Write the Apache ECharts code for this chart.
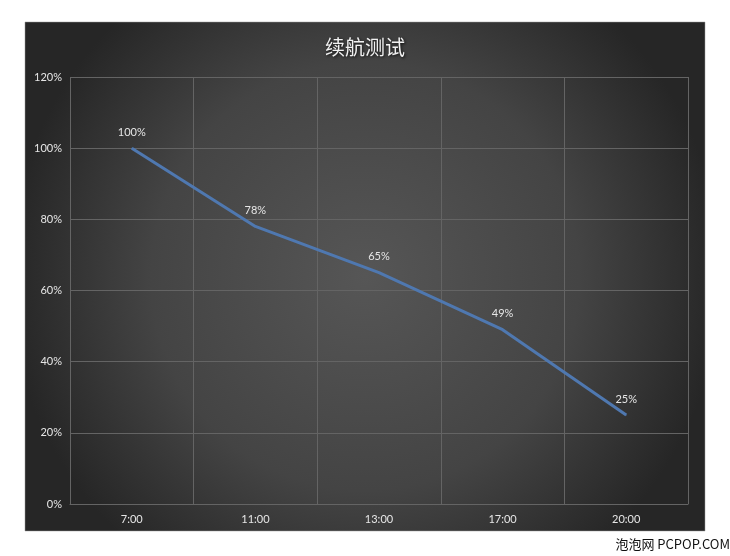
<!DOCTYPE html>
<html>
<head>
<meta charset="utf-8">
<script src="https://cdn.jsdelivr.net/npm/echarts@6/dist/echarts.min.js"></script>
<style>html,body{margin:0;padding:0;background:#fff}#c{width:730px;height:556px}</style>
</head>
<body>
<div id="c"></div>
<script>
const categories = ['7:00', '11:00', '13:00', '17:00', '20:00'];
const batteryValues = [100, 78, 65, 49, 25];
const yTicks = [0, 20, 40, 60, 80, 100, 120];

const chart = echarts.init(document.getElementById('c'));
chart.setOption({
  backgroundColor: '#ffffff',
  animation: false,
  graphic: [
    {
      type: 'rect', z: -10, silent: true,
      shape: { x: 25, y: 22, width: 680, height: 509 },
      style: {
        fill: new echarts.graphic.RadialGradient(0.5, 0.5, 0.7, [
          { offset: 0, color: '#565656' },
          { offset: 0.6, color: '#444444' },
          { offset: 1, color: '#262626' }
        ]),
        stroke: '#9a9a9a', lineWidth: 0.5
      }
    },
    {
      type: 'text', z: 10, silent: true,
      left: 'right', right: 6, top: 538,
      style: { text: '泡泡网 PCPOP.COM', fill: '#111', font: '13px "Noto Sans CJK SC", sans-serif' }
    }
  ],
  title: {
    text: '续航测试',
    left: 'center',
    top: 32,
    textStyle: {
      color: '#f2f2f2', fontSize: 20, fontWeight: 'normal',
      fontFamily: '"Noto Sans CJK SC", sans-serif',
      textShadowColor: 'rgba(0,0,0,0.8)', textShadowBlur: 3, textShadowOffsetX: 1, textShadowOffsetY: 1
    }
  },
  grid: { left: 70, right: 42, top: 77, bottom: 52, containLabel: false },
  xAxis: {
    type: 'category',
    data: categories,
    boundaryGap: true,
    axisLine: { show: true, lineStyle: { color: '#646464', width: 1 } },
    axisTick: { show: false },
    axisLabel: { color: '#e6e6e6', fontSize: 11, margin: 10, fontFamily: 'Lato, "Open Sans", sans-serif' },
    splitLine: { show: true, lineStyle: { color: '#646464', width: 1 } }
  },
  yAxis: {
    type: 'value',
    min: yTicks[0], max: yTicks[yTicks.length - 1], interval: 20,
    axisLine: { show: false },
    axisTick: { show: false },
    axisLabel: { color: '#e6e6e6', fontSize: 11, margin: 8, formatter: '{value}%', fontFamily: 'Lato, "Open Sans", sans-serif' },
    splitLine: { show: true, lineStyle: { color: '#646464', width: 1 } }
  },
  series: [{
    type: 'line',
    data: batteryValues,
    symbol: 'circle',
    symbolSize: 1,
    showSymbol: true,
    itemStyle: { color: '#4f78b0' },
    lineStyle: { color: '#4f78b0', width: 3 },
    label: {
      show: true, position: 'top', distance: 10,
      formatter: '{c}%', color: '#e6e6e6', fontSize: 11, fontFamily: 'Lato, "Open Sans", sans-serif'
    }
  }]
});
</script>
</body>
</html>
